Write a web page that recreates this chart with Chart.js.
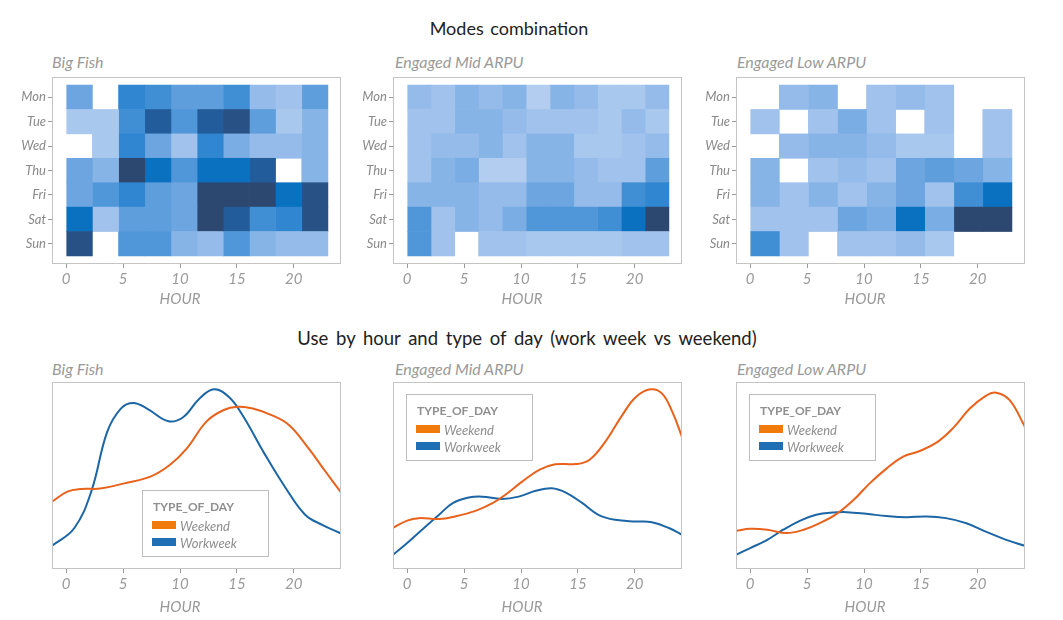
<!DOCTYPE html>
<html><head><meta charset="utf-8">
<script src="https://cdn.jsdelivr.net/npm/chart.js@4.4.1/dist/chart.umd.min.js"></script>
<style>
body{margin:0;background:#fff;width:1063px;height:620px;position:relative;overflow:hidden;font-family:Lato,"Open Sans",sans-serif;}
.t{position:absolute;white-space:nowrap;line-height:1;}
.main{font-size:18px;color:#222;transform:translate(-50%,-50%);}
.sub{font-size:16px;color:#9a9a9a;font-style:italic;transform:translateY(-50%);}
.hour{font-size:15px;color:#9a9a9a;font-style:italic;transform:translate(-50%,-50%);}
canvas{position:absolute;}
.leg{position:absolute;border:1px solid #bdbdbd;width:127px;height:67px;box-sizing:border-box;}
.leg .lt{position:absolute;left:10px;top:16px;transform:translateY(-50%);font-size:12px;font-weight:bold;color:#8f8f8f;line-height:1;}
.leg .sw{position:absolute;left:9px;width:24px;height:8px;}
.leg .li{position:absolute;left:37px;transform:translateY(-50%);font-size:13px;font-style:italic;color:#8f8f8f;line-height:1;}
</style></head>
<body>
<div class="t main" style="left:509px;top:28px;word-spacing:2px">Modes combination</div>
<div class="t main" style="left:527px;top:338px;font-size:18.5px;word-spacing:3px">Use by hour and type of day (work week vs weekend)</div>

<div class="t sub" style="left:52px;top:62px">Big Fish</div>
<div class="t sub" style="left:395px;top:62px">Engaged Mid ARPU</div>
<div class="t sub" style="left:737px;top:62px">Engaged Low ARPU</div>
<div class="t sub" style="left:52px;top:369px">Big Fish</div>
<div class="t sub" style="left:395px;top:369px">Engaged Mid ARPU</div>
<div class="t sub" style="left:737px;top:369px">Engaged Low ARPU</div>

<canvas id="h1" width="351" height="237" style="left:0px;top:67px"></canvas>
<canvas id="h2" width="351" height="237" style="left:341px;top:67px"></canvas>
<canvas id="h3" width="351" height="237" style="left:684px;top:67px"></canvas>
<canvas id="l1" width="351" height="237" style="left:0px;top:372px"></canvas>
<canvas id="l2" width="351" height="237" style="left:341px;top:372px"></canvas>
<canvas id="l3" width="351" height="237" style="left:684px;top:372px"></canvas>

<div class="t hour" style="left:180px;top:298px">HOUR</div>
<div class="t hour" style="left:522px;top:298px">HOUR</div>
<div class="t hour" style="left:865px;top:298px">HOUR</div>
<div class="t hour" style="left:180px;top:606px">HOUR</div>
<div class="t hour" style="left:522px;top:606px">HOUR</div>
<div class="t hour" style="left:865px;top:606px">HOUR</div>

<div class="leg" style="left:142px;top:490px"><div class="lt">TYPE_OF_DAY</div><div class="sw" style="top:30px;background:#f07a0a"></div><div class="li" style="top:35px">Weekend</div><div class="sw" style="top:47px;background:#1f6fb5"></div><div class="li" style="top:52px">Workweek</div></div>
<div class="leg" style="left:406px;top:394px"><div class="lt">TYPE_OF_DAY</div><div class="sw" style="top:30px;background:#f07a0a"></div><div class="li" style="top:35px">Weekend</div><div class="sw" style="top:47px;background:#1f6fb5"></div><div class="li" style="top:52px">Workweek</div></div>
<div class="leg" style="left:749px;top:394px"><div class="lt">TYPE_OF_DAY</div><div class="sw" style="top:30px;background:#f07a0a"></div><div class="li" style="top:35px">Weekend</div><div class="sw" style="top:47px;background:#1f6fb5"></div><div class="li" style="top:52px">Workweek</div></div>

<script>
// ---------- DATA ----------
const days = ['Mon','Tue','Wed','Thu','Fri','Sat','Sun'];
const hourTicks = [0,5,10,15,20];

// heatmap hour bins (bin edges) and intensity levels (rows Mon..Sun, null = no data)
const bigFishBins = [0,2.3,4.6,6.9,9.2,11.5,13.8,16.1,18.4,20.7,23];
const bigFishGrid = [
  [4, null, 6, 5.5, 4.5, 4.5, 5.5, 2.5, 2, 4.5],
  [1.5, 1.5, 5.5, 8, 5, 8, 8.5, 4.5, 1.5, 3],
  [null, 1.5, 6, 4, 2, 6, 3.5, 2.5, 2.5, 3],
  [4, 3, 9, 7, 5, 7, 7, 8, null, 3],
  [4, 5, 6, 4.5, 4, 9, 9, 9, 7, 8.5],
  [7, 2, 4.5, 4.5, 4, 9, 8, 5.5, 6, 8.5],
  [8.5, null, 5, 5, 3, 2.5, 5, 3, 2.5, 2.5]
];
const midArpuBins = [0,2.09,4.18,6.27,8.36,10.45,12.55,14.64,16.73,18.82,20.91,23];
const midArpuGrid = [
  [2.5, 2, 3, 2.5, 3, 1, 3, 2.5, 1.5, 1.5, 2.5],
  [2, 2, 3, 3, 2.5, 2, 2, 2, 1.5, 2.5, 1.5],
  [2, 2.5, 2.5, 3, 2, 3, 3, 1.5, 1.5, 2, 2.5],
  [2, 3, 3.5, 1, 1, 3, 3, 2.5, 2, 2, 4.5],
  [3, 3, 3, 2.5, 2.5, 4, 4, 2.5, 2.5, 5.5, 6],
  [5, 2, 3, 2.5, 3.5, 5, 5, 5, 5.5, 7, 9],
  [5, 2, null, 2, 2, 1.5, 1.5, 1.5, 1.5, 2, 2]
];
const lowArpuBins = [0,2.56,5.11,7.67,10.22,12.78,15.33,17.89,20.44,23];
const lowArpuGrid = [
  [null, 2.5, 3, null, 2, 2.5, 2, null, null],
  [2, null, 2, 3.5, 2, null, 2, null, 2],
  [null, 2.5, 3, 3, 2.5, 1.5, 1.5, null, 2],
  [3, null, 2, 2.5, 2, 4, 4.5, 4, 3],
  [3, 2, 3, 2, 3, 4, 2, 5.5, 7],
  [2, 2, 2, 4, 3.5, 7, 3.5, 9, 9],
  [5.5, 2, null, 2, 2, 2.5, 1.5, null, null]
];

// usage density curves (share of panel height) by hour
const bigFishWorkHours = [-1.25,0.7,2.2,3.6,4.8,5.9,7.1,9.0,10.3,11.7,13.0,14.3,15.5,17.5,19.3,21.0,22.5,24.15];
const bigFishWorkValues = [0.124,0.218,0.414,0.733,0.858,0.888,0.858,0.79,0.813,0.911,0.961,0.92,0.822,0.609,0.432,0.29,0.236,0.19];
const bigFishWkndHours = [-1.25,0.1,1.3,3.0,5.1,7.4,9.1,10.6,12.3,13.8,15.1,16.4,18.1,19.6,21.3,22.8,24.15];
const bigFishWkndValues = [0.36,0.414,0.428,0.43,0.458,0.494,0.556,0.645,0.787,0.849,0.867,0.858,0.822,0.769,0.645,0.52,0.41];

const midWorkHours = [-1.3,0,1.3,2.8,4.0,5.4,6.6,8.3,9.8,11.3,12.7,13.9,15.4,16.8,18.3,20.1,21.5,23.0,24.15];
const midWorkValues = [0.073,0.139,0.21,0.29,0.352,0.382,0.387,0.375,0.387,0.418,0.432,0.41,0.352,0.29,0.263,0.254,0.25,0.219,0.183];
const midWkndHours = [-1.3,0,1.0,2.8,4.2,6.0,7.5,8.6,10.1,11.6,13.0,14.8,16.0,17.4,18.9,20.1,21.4,22.4,23.3,24.15];
const midWkndValues = [0.219,0.259,0.272,0.267,0.281,0.311,0.352,0.396,0.467,0.53,0.56,0.561,0.583,0.68,0.823,0.92,0.961,0.938,0.84,0.707];

const lowWorkHours = [-1.25,0,1.5,2.9,4.4,5.8,7.3,8.5,10.2,12.0,13.7,15.5,17.2,19.0,20.7,22.5,24.15];
const lowWorkValues = [0.076,0.112,0.156,0.21,0.259,0.29,0.302,0.304,0.295,0.283,0.277,0.281,0.272,0.245,0.2,0.156,0.124];
const lowWkndHours = [-1.25,0,1.5,3.2,4.7,6.1,7.6,9.1,10.5,12.0,13.4,14.9,16.4,17.8,19.3,20.7,21.6,22.8,24.15];
const lowWkndValues = [0.204,0.215,0.21,0.192,0.21,0.245,0.295,0.37,0.458,0.538,0.6,0.631,0.677,0.752,0.858,0.926,0.943,0.903,0.76];

// ---------- STYLE ----------
const FONT = 'Lato, "Open Sans", sans-serif';
const ORANGE = '#e8621c', BLUE = '#1c66a6';
const ramp = [[178,205,240],[160,194,236],[135,180,230],[108,165,224],[80,151,218],[48,134,208],[10,112,192],[35,92,155],[45,72,112]];
function colorFor(v){
  const t = Math.max(1, Math.min(9, v)) - 1;
  const i = Math.min(7, Math.floor(t)), f = t - i;
  const a = ramp[i], b = ramp[i+1];
  const c = a.map((x,k)=>Math.round(x + (b[k]-x)*f));
  return 'rgb('+c.join(',')+')';
}
const framePlugin = {
  id:'frame',
  afterDraw(chart){
    const {ctx, chartArea:a} = chart;
    ctx.save(); ctx.strokeStyle = '#c4c4c4'; ctx.lineWidth = 1;
    ctx.strokeRect(Math.round(a.left)+0.5, Math.round(a.top)+0.5, Math.round(a.right-a.left)-1, Math.round(a.bottom-a.top)-1);
    ctx.restore();
  }
};
const X_MIN = -1.25, X_MAX = 24.15;
function xScale(){
  return {
    type:'linear', min:X_MIN, max:X_MAX, offset:false,
    afterBuildTicks: s => { s.ticks = hourTicks.map(v=>({value:v})); },
    afterFit: s => { s.height = 30; },
    grid:{display:true, offset:false, drawOnChartArea:false, drawTicks:true, tickLength:4, color:'#9a9a9a'},
    border:{display:false},
    ticks:{padding:2, color:'#9a9a9a', font:{family:FONT, size:15, style:'italic'}, maxRotation:0}
  };
}
const common = {
  responsive:false, animation:false, devicePixelRatio:1,
  plugins:{legend:{display:false}, tooltip:{enabled:false}, title:{display:false}}
};

function heatmap(id, bins, grid){
  const datasets = bins.slice(0,-1).map((b,c)=>({
    data: grid.map((row,r)=> row[c]==null ? null : {y:r, x:[bins[c], bins[c+1]], v:row[c]}).filter(Boolean),
    backgroundColor: ctx => colorFor(ctx.raw.v),
    borderWidth:0, grouped:false, barPercentage:1, categoryPercentage:1
  }));
  new Chart(document.getElementById(id), {
    type:'bar', data:{datasets}, plugins:[framePlugin],
    options:Object.assign({}, common, {
      indexAxis:'y',
      layout:{padding:{left:12, right:10, top:10, bottom:10}},
      scales:{
        x:xScale(),
        y:{
          type:'linear', min:-0.83, max:6.83, reverse:true, offset:false,
          afterBuildTicks: s => { s.ticks = days.map((d,i)=>({value:i})); },
          afterFit: s => { s.width = 40; },
          grid:{display:true, offset:false, drawOnChartArea:false, drawTicks:true, tickLength:4, color:'#9a9a9a'},
          border:{display:false},
          ticks:{padding:2, color:'#8a8a8a', font:{family:FONT, size:13, style:'italic'}, callback:v=>days[v]}
        }
      }
    })
  });
}

function lines(id, wkH, wkV, woH, woV){
  const pts = (h,v)=>h.map((x,i)=>({x, y:v[i]}));
  new Chart(document.getElementById(id), {
    type:'line', plugins:[framePlugin],
    data:{datasets:[
      {label:'Weekend', data:pts(wkH,wkV), borderColor:ORANGE, borderWidth:2, pointRadius:0, tension:0.4, fill:false},
      {label:'Workweek', data:pts(woH,woV), borderColor:BLUE, borderWidth:2, pointRadius:0, tension:0.4, fill:false}
    ]},
    options:Object.assign({}, common, {
      layout:{padding:{left:52, right:10, top:10, bottom:10}},
      scales:{ x:xScale(), y:{display:false, min:0, max:1} }
    })
  });
}

heatmap('h1', bigFishBins, bigFishGrid);
heatmap('h2', midArpuBins, midArpuGrid);
heatmap('h3', lowArpuBins, lowArpuGrid);
lines('l1', bigFishWkndHours, bigFishWkndValues, bigFishWorkHours, bigFishWorkValues);
lines('l2', midWkndHours, midWkndValues, midWorkHours, midWorkValues);
lines('l3', lowWkndHours, lowWkndValues, lowWorkHours, lowWorkValues);
</script>
</body></html>
